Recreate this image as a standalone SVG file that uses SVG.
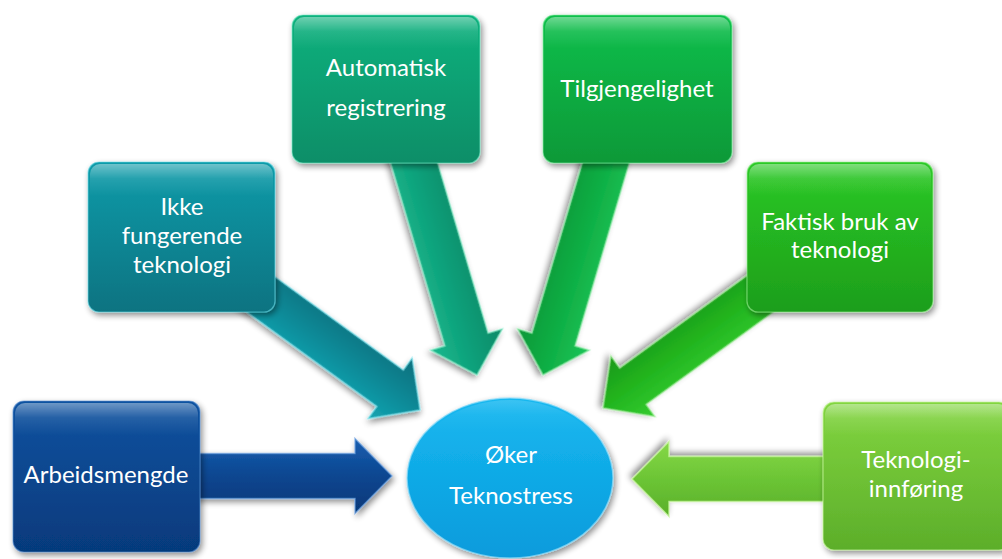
<svg xmlns="http://www.w3.org/2000/svg" width="1002" height="559" viewBox="0 0 1002 559">
<style>
.lbl{font-family:Lato,"Liberation Sans",sans-serif;font-size:24px;fill:#ffffff;text-anchor:middle}
.box{filter:url(#sh)}
.gloss{fill:url(#gloss)}
.arr{stroke-width:1.5;stroke-linejoin:miter}
</style>
<defs>
<filter id="sh" x="-20%" y="-20%" width="140%" height="140%">
<feGaussianBlur in="SourceAlpha" stdDeviation="3"/>
<feOffset dx="2" dy="3" result="b"/>
<feComponentTransfer><feFuncA type="linear" slope="0.45"/></feComponentTransfer>
<feMerge><feMergeNode/><feMergeNode in="SourceGraphic"/></feMerge>
</filter>
<linearGradient id="gloss" x1="0" y1="0" x2="0" y2="1">
<stop offset="0" stop-color="#fff" stop-opacity="0.4"/>
<stop offset="0.1" stop-color="#fff" stop-opacity="0.1"/>
<stop offset="0.22" stop-color="#fff" stop-opacity="0"/>
</linearGradient>
<linearGradient id="g1" x1="0" y1="0" x2="0" y2="1"><stop offset="0" stop-color="#0f52a0"/><stop offset="1" stop-color="#063a7c"/></linearGradient>
<linearGradient id="g2" x1="0" y1="0" x2="0" y2="1"><stop offset="0" stop-color="#0b9ba9"/><stop offset="1" stop-color="#087381"/></linearGradient>
<linearGradient id="g3" x1="0" y1="0" x2="0" y2="1"><stop offset="0" stop-color="#0bb17d"/><stop offset="1" stop-color="#088e68"/></linearGradient>
<linearGradient id="g4" x1="0" y1="0" x2="0" y2="1"><stop offset="0" stop-color="#10bf4b"/><stop offset="1" stop-color="#0a9938"/></linearGradient>
<linearGradient id="g5" x1="0" y1="0" x2="0" y2="1"><stop offset="0" stop-color="#2bc926"/><stop offset="1" stop-color="#1d9e1a"/></linearGradient>
<linearGradient id="g6" x1="0" y1="0" x2="0" y2="1"><stop offset="0" stop-color="#82d540"/><stop offset="1" stop-color="#5cae2a"/></linearGradient>
<linearGradient id="ge" x1="0" y1="0" x2="0" y2="1"><stop offset="0" stop-color="#16b8f0"/><stop offset="1" stop-color="#0a9bdc"/></linearGradient>
<linearGradient id="a1" x1="0" y1="0" x2="0" y2="1"><stop offset="0" stop-color="#1a5fb0"/><stop offset="0.5" stop-color="#0a4690"/><stop offset="1" stop-color="#063878"/></linearGradient>
<linearGradient id="a2" x1="0" y1="0" x2="0" y2="1"><stop offset="0" stop-color="#0c6f7c"/><stop offset="0.5" stop-color="#0b8896"/><stop offset="1" stop-color="#15a5b2"/></linearGradient>
<linearGradient id="a3" x1="0" y1="0" x2="0" y2="1"><stop offset="0" stop-color="#0a8a67"/><stop offset="0.5" stop-color="#0ca07a"/><stop offset="1" stop-color="#1cb98e"/></linearGradient>
<linearGradient id="a4" x1="0" y1="0" x2="0" y2="1"><stop offset="0" stop-color="#1cc458"/><stop offset="0.5" stop-color="#0fae44"/><stop offset="1" stop-color="#0a9738"/></linearGradient>
<linearGradient id="a5" x1="0" y1="0" x2="0" y2="1"><stop offset="0" stop-color="#35cc30"/><stop offset="0.5" stop-color="#22b51f"/><stop offset="1" stop-color="#1a9818"/></linearGradient>
<linearGradient id="a6" x1="0" y1="0" x2="0" y2="1"><stop offset="0" stop-color="#5aaf2a"/><stop offset="0.5" stop-color="#6cc535"/><stop offset="1" stop-color="#86d848"/></linearGradient>
<path id="arrow" d="M -320,-22.5 L -37,-22.5 L -37,-37.5 L 0,0 L -37,37.5 L -37,22.5 L -320,22.5 Z"/>
</defs>
<rect width="1002" height="559" fill="#ffffff"/>
<g id="connectors">
<use href="#arrow" class="arr box" fill="url(#a1)" stroke="#6fa3e0" stroke-opacity="0.7" transform="translate(392,476)"/>
<use href="#arrow" class="arr box" fill="url(#a2)" stroke="#7fe6f0" stroke-opacity="0.7" transform="translate(420,410) rotate(36)"/>
<use href="#arrow" class="arr box" fill="url(#a3)" stroke="#8ff0cc" stroke-opacity="0.7" transform="translate(477,375) rotate(73.5)"/>
<use href="#arrow" class="arr box" fill="url(#a4)" stroke="#9af0b0" stroke-opacity="0.7" transform="translate(543,375) rotate(106.5)"/>
<use href="#arrow" class="arr box" fill="url(#a5)" stroke="#a8f0a0" stroke-opacity="0.7" transform="translate(603,408) rotate(144)"/>
<use href="#arrow" class="arr box" fill="url(#a6)" stroke="#c8f5a0" stroke-opacity="0.8" transform="translate(632,479) rotate(180)"/>
</g>
<g id="node-arbeidsmengde">
<rect class="box" x="13" y="401" width="187" height="151" rx="11" fill="url(#g1)" stroke="#5a8fd0" stroke-opacity="0.6" stroke-width="1.2"/>
<rect class="gloss" x="15" y="403" width="183" height="147" rx="10"/>
<text class="lbl" x="106" y="483">Arbeidsmengde</text>
</g>
<g id="node-ikke">
<rect class="box" x="88" y="162" width="187" height="150" rx="11" fill="url(#g2)" stroke="#6fdbe6" stroke-opacity="0.6" stroke-width="1.2"/>
<rect class="gloss" x="90" y="164" width="183" height="146" rx="10"/>
<text class="lbl" x="182" y="215">Ikke</text>
<text class="lbl" x="182" y="244">fungerende</text>
<text class="lbl" x="182" y="273">teknologi</text>
</g>
<g id="node-automatisk">
<rect class="box" x="292" y="15" width="188" height="148" rx="11" fill="url(#g3)" stroke="#7ae8c4" stroke-opacity="0.6" stroke-width="1.2"/>
<rect class="gloss" x="294" y="17" width="184" height="144" rx="10"/>
<text class="lbl" x="386" y="76">Automatisk</text>
<text class="lbl" x="386" y="116">registrering</text>
</g>
<g id="node-tilgjengelighet">
<rect class="box" x="543" y="15" width="189" height="148" rx="11" fill="url(#g4)" stroke="#85eea4" stroke-opacity="0.6" stroke-width="1.2"/>
<rect class="gloss" x="545" y="17" width="185" height="144" rx="10"/>
<text class="lbl" x="637" y="97">Tilgjengelighet</text>
</g>
<g id="node-faktisk">
<rect class="box" x="747" y="162" width="186" height="150" rx="11" fill="url(#g5)" stroke="#9ef098" stroke-opacity="0.6" stroke-width="1.2"/>
<rect class="gloss" x="749" y="164" width="182" height="146" rx="10"/>
<text class="lbl" x="840" y="230">Faktisk bruk av</text>
<text class="lbl" x="840" y="258">teknologi</text>
</g>
<g id="node-teknologiinnforing">
<rect class="box" x="823" y="402" width="187" height="148" rx="11" fill="url(#g6)" stroke="#c6f59c" stroke-opacity="0.7" stroke-width="1.2"/>
<rect class="gloss" x="825" y="404" width="183" height="144" rx="10"/>
<text class="lbl" x="916" y="468">Teknologi-</text>
<text class="lbl" x="916" y="497">innføring</text>
</g>
<g id="node-teknostress">
<ellipse class="box" cx="510" cy="478" rx="103" ry="80" fill="url(#ge)" stroke="#8fdcf8" stroke-opacity="0.7" stroke-width="1.5"/>
<ellipse cx="510" cy="474" rx="98" ry="74" fill="url(#gloss)" opacity="0.4"/>
<text class="lbl" x="511" y="463">Øker</text>
<text class="lbl" x="511" y="504">Teknostress</text>
</g>
</svg>
